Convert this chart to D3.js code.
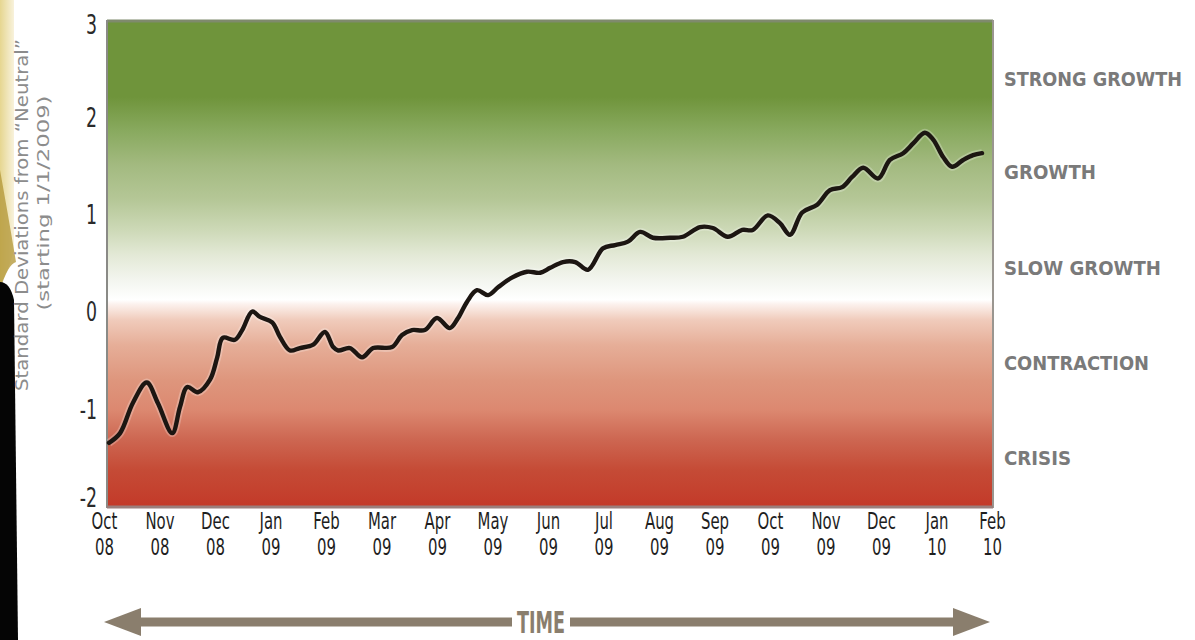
<!DOCTYPE html>
<html><head><meta charset="utf-8">
<script src="https://cdn.jsdelivr.net/npm/d3@7"></script>
<style>
html,body{margin:0;padding:0;background:#fff;}
svg{display:block;}
.cond{font-family:"DejaVu Sans Condensed","Liberation Sans Narrow",sans-serif;}
</style></head><body>
<svg id="c" width="1195" height="640"></svg>
<script>
// ---- data ----
const monthLabels = ["Oct","Nov","Dec","Jan","Feb","Mar","Apr","May","Jun","Jul","Aug","Sep","Oct","Nov","Dec","Jan","Feb"];
const yearLabels  = ["08","08","08","09","09","09","09","09","09","09","09","09","09","09","09","10","10"];
const yTicks = [3,2,1,0,-1,-2];
const zoneLabels = ["STRONG GROWTH","GROWTH","SLOW GROWTH","CONTRACTION","CRISIS"];
const zoneValues = [2.4,1.44,0.45,-0.53,-1.5];
// months since Oct 2008
const t = [0.09,0.29,0.52,0.77,0.97,1.23,1.37,1.50,1.69,1.91,2.04,2.14,2.36,2.49,2.67,2.81,3.03,3.17,3.35,3.53,3.77,3.98,4.13,4.22,4.43,4.65,4.85,5.19,5.37,5.55,5.78,6.00,6.23,6.38,6.54,6.72,6.92,7.10,7.35,7.62,7.86,8.04,8.27,8.49,8.72,8.99,9.21,9.44,9.66,9.89,10.20,10.43,10.74,10.97,11.24,11.50,11.69,11.96,12.18,12.36,12.58,12.85,13.08,13.30,13.48,13.68,13.95,14.16,14.40,14.58,14.79,14.94,15.12,15.28,15.48,15.66,15.82];
const v = [-1.35,-1.25,-0.94,-0.73,-0.94,-1.25,-0.98,-0.775,-0.83,-0.70,-0.47,-0.27,-0.29,-0.19,0.0,-0.055,-0.11,-0.26,-0.40,-0.375,-0.34,-0.21,-0.365,-0.40,-0.375,-0.47,-0.375,-0.365,-0.24,-0.19,-0.19,-0.066,-0.17,-0.066,0.10,0.22,0.17,0.25,0.35,0.41,0.40,0.45,0.51,0.51,0.43,0.65,0.685,0.72,0.82,0.76,0.76,0.77,0.87,0.86,0.77,0.84,0.84,0.99,0.91,0.79,1.02,1.10,1.25,1.28,1.385,1.48,1.37,1.56,1.63,1.73,1.84,1.77,1.59,1.49,1.56,1.61,1.63];

// ---- layout ----
const svg = d3.select("#c");
const x = d3.scaleLinear().domain([0,16]).range([104,992]);
const y = d3.scaleLinear().domain([-2,3]).range([506,20]);
const plotL = 107, plotR = 993;

function condense(sel, f){
  sel.each(function(){
    const w = this.getComputedTextLength();
    d3.select(this).attr("textLength", w*f).attr("lengthAdjust","spacingAndGlyphs");
  });
}

// left decoration
const defs = svg.append("defs");
const lg = defs.append("linearGradient").attr("id","deco").attr("x1",0).attr("y1",0).attr("x2",1).attr("y2",0);
lg.append("stop").attr("offset","0%").attr("stop-color","#e6d690");
lg.append("stop").attr("offset","100%").attr("stop-color","#f8f2dc");
svg.append("path").attr("d","M0,0 L14,0 L14,250 Q9,270 0,285 Z").attr("fill","url(#deco)");
svg.append("path").attr("d","M0,170 Q9,220 16,262 Q8,264 0,290 Z").attr("fill","#b59a3c").attr("opacity",0.8);
svg.append("path").attr("d","M0,282 Q10,282 14,300 L18,640 L0,640 Z").attr("fill","#050505");

// background gradient
const bg = defs.append("linearGradient").attr("id","bg").attr("gradientUnits","userSpaceOnUse")
  .attr("x1",0).attr("y1",y(3)).attr("x2",0).attr("y2",y(-2));
const stops = [[20,"#6f943b"],[97,"#6f943b"],[130,"#88a95e"],[165,"#a3ba80"],[200,"#b5c797"],[230,"#cdd9b7"],[255,"#e3e9d6"],[280,"#f3f5ef"],[300,"#ffffff"],[304,"#fcf2ee"],[320,"#f0cbbb"],[345,"#e6ae98"],[380,"#de967d"],[410,"#dc8870"],[440,"#cd6651"],[470,"#c54b36"],[506,"#c33a29"]];
stops.forEach(s=>bg.append("stop").attr("offset",((s[0]-20)/486*100)+"%").attr("stop-color",s[1]));
svg.append("rect").attr("x",plotL).attr("y",y(3)).attr("width",plotR-plotL).attr("height",y(-2)-y(3)).attr("fill","url(#bg)");
// borders
svg.append("line").attr("x1",plotL).attr("x2",plotR).attr("y1",y(3)+1).attr("y2",y(3)+1).attr("stroke","#7f8a6c").attr("stroke-width",3);
svg.append("line").attr("x1",plotL).attr("x2",plotL).attr("y1",y(3)).attr("y2",y(-2)+2).attr("stroke","#8a8a86").attr("stroke-width",2);
svg.append("line").attr("x1",plotR).attr("x2",plotR).attr("y1",y(3)).attr("y2",y(-2)+2).attr("stroke","#9a9690").attr("stroke-width",2);
svg.append("line").attr("x1",plotL).attr("x2",plotR).attr("y1",y(-2)+1).attr("y2",y(-2)+1).attr("stroke","#9b7f7c").attr("stroke-width",3);

// line
const pts = t.map((d,i)=>[d,v[i]]);
const line = d3.line().x(d=>x(d[0])).y(d=>y(d[1])).curve(d3.curveCatmullRom.alpha(0.5));
svg.append("path").datum(pts).attr("d",line).attr("fill","none").attr("stroke","#fff").attr("stroke-opacity",0.25).attr("stroke-width",8).attr("stroke-linejoin","round");
svg.append("path").datum(pts).attr("d",line).attr("fill","none").attr("stroke","#1c1612").attr("stroke-width",4.4).attr("stroke-linejoin","round").attr("stroke-linecap","round");

// y ticks
const yAxis = d3.axisLeft(y).tickValues(yTicks).tickSize(0).tickPadding(0).tickFormat(d=>String(d));
const ya = svg.append("g").attr("transform","translate(97,0)").call(yAxis);
ya.select(".domain").remove();
ya.selectAll("text").attr("class","cond").attr("font-family",null).attr("font-size",26).attr("fill","#2a2a2a")
  .attr("dy",d=>d===-2?"0em":(d===3?"0.5em":"0.36em"));
condense(ya.selectAll("text"), 0.74);

// y title
svg.append("text").attr("class","cond").attr("transform","translate(28,215) rotate(-90)").attr("text-anchor","middle")
  .attr("font-size",18).attr("fill","#8c8c8c").attr("textLength",352).attr("lengthAdjust","spacingAndGlyphs")
  .text("Standard Deviations from \u201CNeutral\u201D");
svg.append("text").attr("class","cond").attr("transform","translate(49,203) rotate(-90)").attr("text-anchor","middle")
  .attr("font-size",16).attr("fill","#8c8c8c").attr("textLength",215).attr("lengthAdjust","spacingAndGlyphs")
  .text("(starting 1/1/2009)");

// x labels
const xAxis = d3.axisBottom(x).tickValues(d3.range(monthLabels.length)).tickSize(0).tickFormat(i=>monthLabels[i]);
const xa = svg.append("g").attr("transform","translate(0,512)").call(xAxis);
xa.select(".domain").remove();
xa.selectAll("text").attr("class","cond").attr("font-family",null).attr("font-size",23).attr("fill","#1e1e1e").attr("dy","0.72em").attr("y",0);
xa.selectAll(".tick").append("text").attr("class","cond").attr("font-size",23).attr("fill","#1e1e1e")
  .attr("text-anchor","middle").attr("y",26).attr("dy","0.72em").text((d)=>yearLabels[d]);
condense(xa.selectAll("text"), 0.72);

// zone labels
const zw = [178,92,157,145,67];
svg.selectAll("text.zone").data(zoneLabels).enter().append("text").attr("class","cond zone")
  .attr("x",1004).attr("y",(d,i)=>y(zoneValues[i])).attr("dy","0.36em")
  .attr("font-size",20).attr("font-weight","bold").attr("fill","#7a7a7a")
  .attr("textLength",(d,i)=>zw[i]).attr("lengthAdjust","spacingAndGlyphs").text(d=>d);

// TIME arrow
const ac = "#8a7e6d", ay = 622;
svg.append("rect").attr("x",138).attr("y",ay-4.5).attr("width",374).attr("height",9).attr("fill",ac);
svg.append("rect").attr("x",570).attr("y",ay-4.5).attr("width",386).attr("height",9).attr("fill",ac);
svg.append("path").attr("d",`M104,${ay} L141,${ay-14} L141,${ay+14} Z`).attr("fill",ac);
svg.append("path").attr("d",`M990,${ay} L953,${ay-14} L953,${ay+14} Z`).attr("fill",ac);
svg.append("text").attr("class","cond").attr("x",541).attr("y",ay).attr("dy","0.36em").attr("text-anchor","middle")
  .attr("font-size",31).attr("font-weight","bold").attr("fill",ac).attr("textLength",48).attr("lengthAdjust","spacingAndGlyphs").text("TIME");
</script>
</body></html>
